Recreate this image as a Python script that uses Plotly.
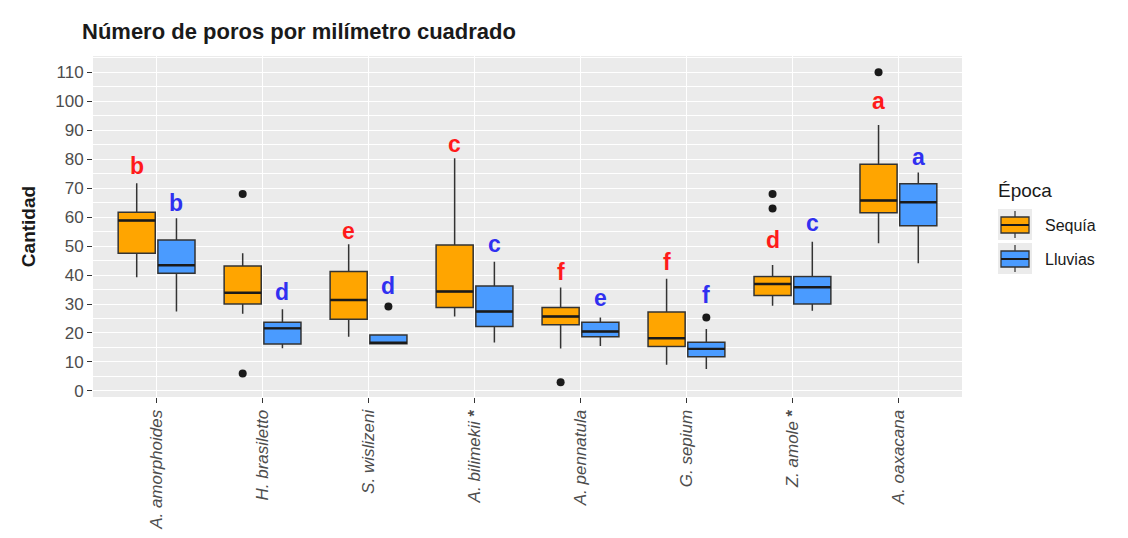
import plotly.graph_objects as go

# Species along the x axis
species = ["A. amorphoides", "H. brasiletto", "S. wislizeni", "A. bilimekii",
           "A. pennatula", "G. sepium", "Z. amole", "A. oaxacana"]
starred = ["A. bilimekii", "Z. amole"]

# Box statistics, dry season (Sequía)
seq_low = [39.2, 26.6, 18.7, 25.7, 14.6, 9.0, 29.4, 51.0]
seq_q1 = [47.5, 30.0, 24.7, 28.8, 22.8, 15.3, 32.9, 61.5]
seq_med = [58.8, 33.9, 31.4, 34.3, 25.7, 18.2, 36.9, 65.7]
seq_q3 = [61.7, 43.1, 41.2, 50.4, 28.8, 27.2, 39.5, 78.2]
seq_up = [71.7, 47.5, 50.6, 80.3, 35.7, 38.7, 43.5, 91.8]
seq_out_sp = ["H. brasiletto", "H. brasiletto", "A. pennatula", "Z. amole", "Z. amole", "A. oaxacana"]
seq_out_val = [68, 6, 3, 68, 63, 110]
seq_letters = ["b", "", "e", "c", "f", "f", "d", "a"]
seq_letter_y = [77.5, None, 55.2, 85.3, 41.2, 44.6, 52.1, 99.9]

# Box statistics, rainy season (Lluvias)
llu_low = [27.4, 14.7, 16.3, 16.7, 15.5, 7.6, 27.7, 44.1]
llu_q1 = [40.6, 16.2, 16.3, 22.2, 18.7, 11.8, 30.0, 57.0]
llu_med = [43.4, 21.6, 16.6, 27.4, 20.5, 14.5, 35.8, 65.1]
llu_q3 = [52.1, 23.7, 19.3, 36.2, 23.7, 16.8, 39.5, 71.5]
llu_up = [59.6, 28.2, 19.3, 44.6, 25.3, 21.4, 51.5, 75.4]
llu_out_sp = ["S. wislizeni", "G. sepium"]
llu_out_val = [29.1, 25.3]
llu_letters = ["b", "d", "d", "c", "e", "f", "c", "a"]
llu_letter_y = [65.0, 34.3, 36.3, 50.7, 32.0, 33.1, 57.9, 80.9]

y_ticks = list(range(0, 111, 10))

ORANGE = "#FFA500"
BLUE = "#4A9BFF"
RED_TXT = "#FF1A1A"
BLUE_TXT = "#3030F0"
EDGE = "#333333"
WHISK = "#555555"
FONT = "Liberation Sans, Arial"
DODGE = 0.1875
BOX_W = 0.35

pos = {s: i + 1 for i, s in enumerate(species)}
tick_text = [f"<i>{s}</i> <b>*</b>" if s in starred else f"<i>{s}</i>" for s in species]

fig = go.Figure()


def add_group(low, q1, med, q3, up, fill, offset):
    fig.add_trace(go.Box(
        x=[pos[s] + offset for s in species],
        lowerfence=low, q1=q1, median=med, q3=q3, upperfence=up,
        width=BOX_W, whiskerwidth=0,
        fillcolor=fill, line=dict(color=EDGE, width=1.5),
        showlegend=False, hoverinfo="skip",
    ))
    # thicker median bar drawn over each box
    xs, ys = [], []
    for s, m in zip(species, med):
        c = pos[s] + offset
        xs += [c - BOX_W / 2, c + BOX_W / 2, None]
        ys += [m, m, None]
    fig.add_trace(go.Scatter(x=xs, y=ys, mode="lines",
                             line=dict(color="#1A1A1A", width=2.4),
                             showlegend=False, hoverinfo="skip"))


def add_outliers(sp, vals, offset):
    fig.add_trace(go.Scatter(
        x=[pos[s] + offset for s in sp], y=vals, mode="markers",
        marker=dict(color="#1A1A1A", size=8),
        showlegend=False, hoverinfo="skip",
    ))


def add_letters(letters, ys, color, offset):
    for s, t, yv in zip(species, letters, ys):
        if not t:
            continue
        fig.add_annotation(x=pos[s] + offset, y=yv, text=f"<b>{t}</b>",
                           showarrow=False, yanchor="middle",
                           font=dict(family=FONT, size=23, color=color))


add_group(seq_low, seq_q1, seq_med, seq_q3, seq_up, ORANGE, -DODGE)
add_group(llu_low, llu_q1, llu_med, llu_q3, llu_up, BLUE, DODGE)
add_outliers(seq_out_sp, seq_out_val, -DODGE)
add_outliers(llu_out_sp, llu_out_val, DODGE)
add_letters(seq_letters, seq_letter_y, RED_TXT, -DODGE)
add_letters(llu_letters, llu_letter_y, BLUE_TXT, DODGE)

# ggplot-style legend drawn in paper coordinates
L, R, T, B = 93, 962, 56, 397


def px(xp):
    return (xp - L) / (R - L)


def py(yp):
    return (B - yp) / (B - T)


shapes = []
legend_items = [("Sequía", ORANGE, 209), ("Lluvias", BLUE, 243)]
for name, col, top in legend_items:
    shapes.append(dict(type="rect", xref="paper", yref="paper",
                       x0=px(998), x1=px(1032), y0=py(top + 31), y1=py(top),
                       fillcolor="#EBEBEB", line=dict(width=0), layer="below"))
    shapes.append(dict(type="line", xref="paper", yref="paper",
                       x0=px(1015), x1=px(1015), y0=py(top + 29), y1=py(top + 2),
                       line=dict(color=WHISK, width=1.5)))
    shapes.append(dict(type="rect", xref="paper", yref="paper",
                       x0=px(1001), x1=px(1029), y0=py(top + 24), y1=py(top + 8),
                       fillcolor=col, line=dict(color=EDGE, width=1.3)))
    shapes.append(dict(type="line", xref="paper", yref="paper",
                       x0=px(1001), x1=px(1029), y0=py(top + 16), y1=py(top + 16),
                       line=dict(color="#1A1A1A", width=2)))
    fig.add_annotation(xref="paper", yref="paper", x=px(1043), y=py(top + 16),
                       text=name, showarrow=False, xanchor="left", yanchor="middle",
                       font=dict(family=FONT, size=16, color="#1A1A1A"))

fig.add_annotation(xref="paper", yref="paper", x=px(996), y=py(190),
                   text="Época", showarrow=False, xanchor="left", yanchor="middle",
                   font=dict(family=FONT, size=19, color="#1A1A1A"))

fig.update_layout(
    width=1128, height=538,
    margin=dict(l=L, r=1128 - R, t=T, b=538 - B),
    paper_bgcolor="white", plot_bgcolor="#EBEBEB",
    font=dict(family=FONT, color="#4D4D4D"),
    title=dict(text="<b>Número de poros por milímetro cuadrado</b>",
               x=82 / 1128, xanchor="left", y=1 - 31 / 538, yanchor="middle",
               font=dict(size=22, color="#1A1A1A")),
    shapes=shapes,
    showlegend=False,
)

fig.update_xaxes(
    range=[0.4, 8.6], tickmode="array", tickvals=[pos[s] for s in species],
    ticktext=tick_text, tickangle=-90, tickfont=dict(size=17, color="#4D4D4D"),
    showgrid=True, gridcolor="white", gridwidth=1.3, automargin=False,
    ticks="outside", ticklen=5, tickcolor="#333333", zeroline=False,
)
fig.update_yaxes(
    range=[-2.1, 115.6], tickmode="array", tickvals=y_ticks,
    tickfont=dict(size=17, color="#4D4D4D"),
    showgrid=True, gridcolor="white", gridwidth=1.3, automargin=False,
    minor=dict(dtick=5, tick0=0, showgrid=True, gridcolor="white", gridwidth=0.6),
    ticks="outside", ticklen=5, tickcolor="#333333", zeroline=False,
    title=dict(text="<b>Cantidad</b>", font=dict(size=19, color="#1A1A1A"), standoff=14),
)

fig.write_html("out.html")
